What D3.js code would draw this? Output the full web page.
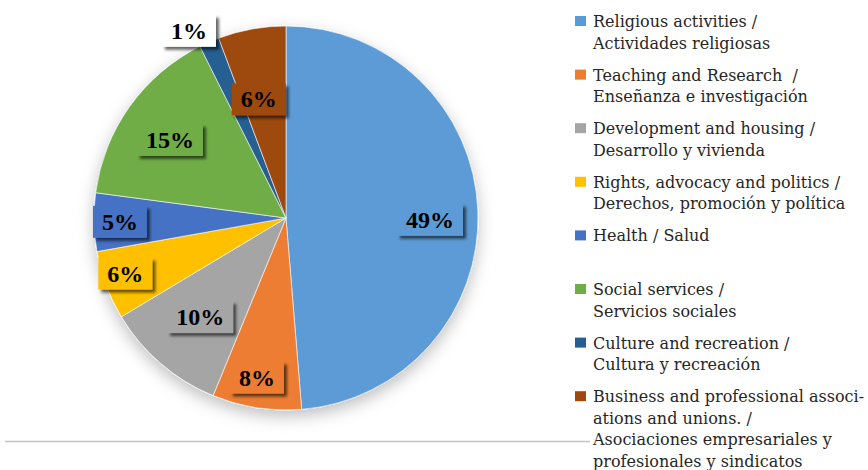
<!DOCTYPE html>
<html><head><meta charset="utf-8">
<script src="https://cdn.jsdelivr.net/npm/d3@7"></script>
<style>
html,body{margin:0;padding:0;background:#fff;}
svg{display:block;}
.leg text{font-family:"DejaVu Serif",serif;font-size:16px;fill:#262626;white-space:pre;}
.lab{font-family:"Liberation Serif","Times New Roman",serif;font-weight:bold;font-size:24px;fill:#000;}
</style></head><body>
<svg id="chart" width="868" height="470"></svg>
<script>
// ---- data ----
const categories = [
  "Religious activities / Actividades religiosas",
  "Teaching and Research / Enseñanza e investigación",
  "Development and housing / Desarrollo y vivienda",
  "Rights, advocacy and politics / Derechos, promoción y política",
  "Health / Salud",
  "Social services / Servicios sociales",
  "Culture and recreation / Cultura y recreación",
  "Business and professional associations and unions. / Asociaciones empresariales y profesionales y sindicatos"
];
const values = [48.7, 7.5, 10.2, 5.8, 4.9, 15.5, 1.7, 5.7];
const valueLabels = ["49%", "8%", "10%", "6%", "5%", "15%", "1%", "6%"];
const legendLines = [
  ["Religious activities /", "Actividades religiosas"],
  ["Teaching and Research  /", "Enseñanza e investigación"],
  ["Development and housing /", "Desarrollo y vivienda"],
  ["Rights, advocacy and politics /", "Derechos, promoción y política"],
  ["Health / Salud"],
  ["Social services /", "Servicios sociales"],
  ["Culture and recreation /", "Cultura y recreación"],
  ["Business and professional associ-", "ations and unions. /", "Asociaciones empresariales y", "profesionales y sindicatos"]
];

// ---- layout / style ----
const colors = ["#5B9BD5", "#ED7D31", "#A5A5A5", "#FFC000", "#4472C4", "#70AD47", "#255E91", "#9E480E"];
const W = 868, H = 470, cx = 286, cy = 218, R = 192;
// [radius factor, angle shift in degrees] for each data label
const labelPlacement = [[0.75, 3], [0.844, 1.5], [0.682, 0.3], [0.885, 1.5], [0.865, 0], [0.729, -1.5], [1.099, -3.8], [0.635, -2.7]];

const svg = d3.select("#chart");
const defs = svg.append("defs");
const fPie = defs.append("filter").attr("id", "pieShadow")
  .attr("x", "-20%").attr("y", "-20%").attr("width", "140%").attr("height", "140%");
fPie.append("feDropShadow").attr("dx", 0).attr("dy", 6).attr("stdDeviation", 8)
  .attr("flood-color", "#000").attr("flood-opacity", 0.25);
const fLab = defs.append("filter").attr("id", "labShadow")
  .attr("x", "-30%").attr("y", "-30%").attr("width", "160%").attr("height", "170%");
fLab.append("feDropShadow").attr("dx", 3).attr("dy", 3).attr("stdDeviation", 1.6)
  .attr("flood-color", "#000").attr("flood-opacity", 0.6);

const color = d3.scaleOrdinal().domain(categories).range(colors);
const pie = d3.pie().sort(null).value(d => d.v);
const data = categories.map((c, i) => ({c, v: values[i], lab: valueLabels[i], i}));
const arcs = pie(data);
const arc = d3.arc().innerRadius(0).outerRadius(R);

// horizontal rule
svg.append("line").attr("x1", 5).attr("x2", 590).attr("y1", 441.5).attr("y2", 441.5)
  .attr("stroke", "#c4c4c4").attr("stroke-width", 1.5);

const g = svg.append("g").attr("transform", `translate(${cx},${cy})`);
g.append("g").attr("filter", "url(#pieShadow)")
  .selectAll("path").data(arcs).join("path")
  .attr("d", arc)
  .attr("fill", d => color(d.data.c))
  .attr("stroke", "#fff").attr("stroke-width", 0.6);

// data labels
const labG = g.append("g");
arcs.forEach((d, i) => {
  const [rf, shift] = labelPlacement[i];
  const a = (d.startAngle + d.endAngle) / 2 + shift * Math.PI / 180;
  const x = Math.sin(a) * R * rf, y = -Math.cos(a) * R * rf;
  const outside = rf > 1;
  const lg = labG.append("g").attr("transform", `translate(${x},${y})`);
  const rect = lg.append("rect").attr("fill", outside ? "#fff" : color(d.data.c))
    .attr("filter", "url(#labShadow)");
  const t = lg.append("text").attr("class", "lab").attr("text-anchor", "middle")
    .attr("dy", "0.34em").text(d.data.lab);
  const bb = t.node().getBBox();
  rect.attr("x", bb.x - 9).attr("y", bb.y - 3).attr("width", bb.width + 18).attr("height", bb.height + 6);
});

// legend
const leg = svg.append("g").attr("class", "leg");
categories.forEach((c, i) => {
  const base = 27 + i * 53.6;
  leg.append("rect").attr("x", 575).attr("y", base - 11).attr("width", 11).attr("height", 10)
    .attr("fill", color(c));
  legendLines[i].forEach((ln, j) => {
    leg.append("text").attr("x", 593).attr("y", base + j * 21.5).text(ln);
  });
});
</script>
</body></html>
